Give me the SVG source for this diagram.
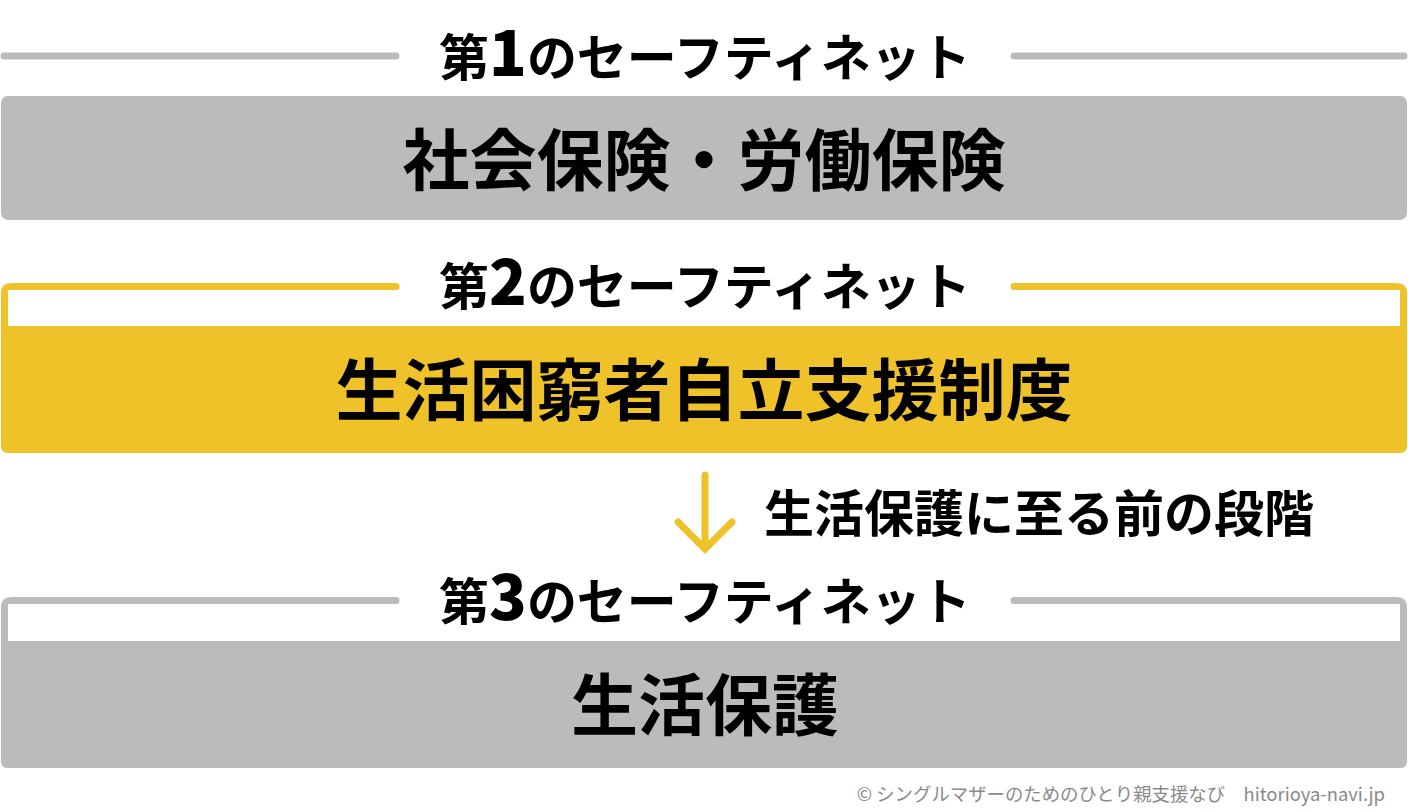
<svg xmlns="http://www.w3.org/2000/svg" width="1408" height="812" viewBox="0 0 1408 812">
<style>
.t{font-family:"Noto Sans CJK JP","Noto Sans",sans-serif;font-weight:bold;fill:#000;text-anchor:middle}
.title{font-size:50px}
.num{font-size:62px;font-weight:900}
.box{font-size:67px}
.g{fill:#bbbbbb}
.y{fill:#f0c22a}
.gl{stroke:#bbbbbb;stroke-width:7;stroke-linecap:round;fill:none}
.yl{stroke:#f0c22a;stroke-width:7;stroke-linecap:round;fill:none}
.foot{font-family:"Noto Sans CJK JP","Noto Sans",sans-serif;font-size:18.4px;fill:#8a8a8a;text-anchor:end}
</style>
<rect width="1408" height="812" fill="#fff"/>
<g id="tier1">
<path class="gl" d="M4,56 H396 M1014,56 H1404"/>
<rect class="g" x="1" y="96" width="1406" height="124" rx="7"/>
<text class="t title" x="705" y="76"><tspan>第</tspan><tspan class="num">1</tspan><tspan>のセーフティネット</tspan></text>
<text class="t box" x="704" y="185">社会保険・労働保険</text>
</g>
<g id="tier2">
<path class="y" d="M1,293 Q1,283 11,283 H396 V290 H8 V326 H1400 V290 H1014 V283 H1397 Q1407,283 1407,293 V446 Q1407,453 1400,453 H8 Q1,453 1,446 Z"/>
<circle class="y" cx="396" cy="286.5" r="3.5"/>
<circle class="y" cx="1014" cy="286.5" r="3.5"/>
<text class="t title" x="705" y="305"><tspan>第</tspan><tspan class="num">2</tspan><tspan>のセーフティネット</tspan></text>
<text class="t box" x="704" y="415">生活困窮者自立支援制度</text>
</g>
<g id="connectors">
<path class="yl" d="M705,475 V548 M678,522 L705,549 L732,522"/>
</g>
<g id="stage-label">
<text class="t" style="font-size:50px;text-anchor:start" x="764" y="532">生活保護に至る前の段階</text>
</g>
<g id="tier3">
<path class="g" d="M1,607 Q1,597 11,597 H396 V604 H8 V641 H1400 V604 H1014 V597 H1397 Q1407,597 1407,607 V761 Q1407,768 1400,768 H8 Q1,768 1,761 Z"/>
<circle class="g" cx="396" cy="600.5" r="3.5"/>
<circle class="g" cx="1014" cy="600.5" r="3.5"/>
<text class="t title" x="705" y="620"><tspan>第</tspan><tspan class="num">3</tspan><tspan>のセーフティネット</tspan></text>
<text class="t box" x="705" y="730">生活保護</text>
</g>
<text class="foot" x="1385" y="801">© シングルマザーのためのひとり親支援なび　hitorioya-navi.jp</text>
</svg>
